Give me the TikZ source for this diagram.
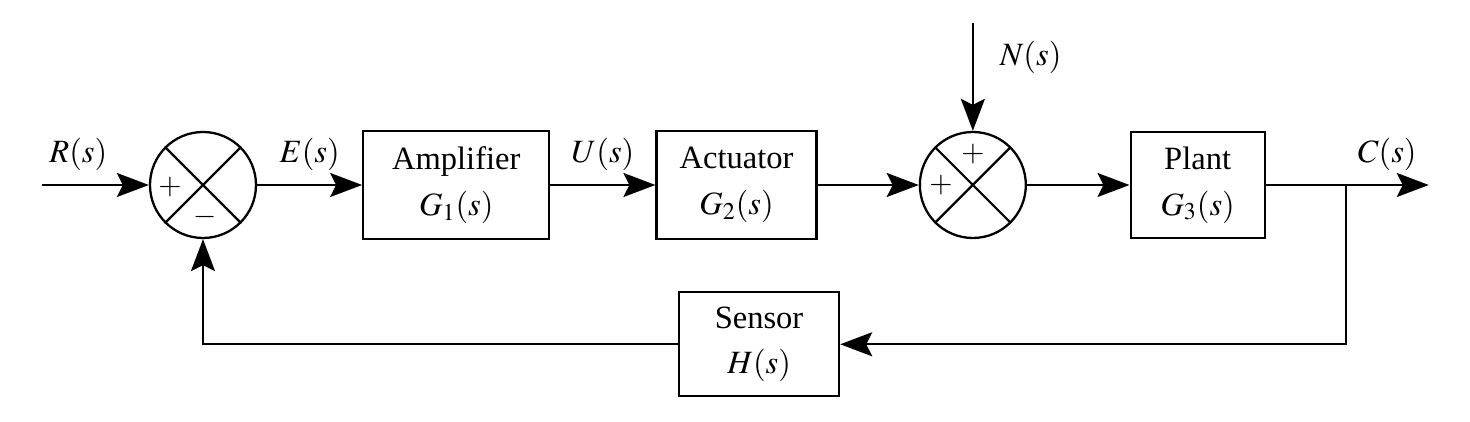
\documentclass[tikz,border=0pt]{standalone}
\usepackage{mathptmx}
\usepackage{fontspec}
\setmainfont{Liberation Serif}
\usetikzlibrary{positioning,arrows.meta}

\begin{document}
\begin{tikzpicture}[node distance = 2.05cm, font=\fontsize{18.5}{26}\selectfont, line width=1.3pt,
  block/.style={draw, shape=rectangle, minimum height=2.16cm, align=center, inner sep=2pt},
  sumnode/.style={draw, shape=circle, minimum size=2.12cm, inner sep=0pt},
  sign/.style={font=\fontsize{17}{17}\selectfont, inner sep=0pt},
  signal/.style={-{Stealth[length=6.4mm, width=4.8mm, inset=1.2mm]}}]

      \useasboundingbox (-4.06,-4.74) rectangle (25.34,3.7);

      \node[sumnode] (sum1) at (0,0) {};
      \draw (sum1.north west) -- (sum1.south east) (sum1.north east) -- (sum1.south west);
      \node[sign] (sum1plus) at ([shift={(-0.66,-0.04)}]sum1.center) {$+$};
      \node[sign] (sum1minus) at ([shift={(0.04,-0.64)}]sum1.center) {$-$};

      \node[block, minimum width=3.72cm, right=2.1cm of sum1] (amp) {Amplifier\\$G_1(s)$};
      \node[block, minimum width=3.2cm, right=2.1cm of amp] (act) {Actuator\\$G_2(s)$};

      \node[sumnode, right=2.02cm of act] (sum2) {};
      \draw (sum2.north west) -- (sum2.south east) (sum2.north east) -- (sum2.south west);
      \node[sign] (sum2top) at ([shift={(0,0.62)}]sum2.center) {$+$};
      \node[sign] (sum2left) at ([shift={(-0.64,0)}]sum2.center) {$+$};

      \node[block, minimum width=2.68cm, minimum height=2.12cm, right=of sum2] (plant) {Plant\\$G_3(s)$};
      \node[block, minimum width=3.2cm, minimum height=2.08cm, below=1.02cm of act, xshift=0.45cm] (sensor) {Sensor\\$H(s)$};

      \coordinate[left=3.22cm of sum1.center] (in);
      \coordinate[above=2.16cm of sum2] (noise);
      \coordinate[right=1.6cm of plant] (branch);
      \coordinate[right=3.26cm of plant] (out);

      \draw [signal] (in) -- node[pos=0.34, above=0.15cm] {$R(s)$} (sum1);
      \draw [signal] (sum1) -- node[midway, above=0.15cm] {$E(s)$} (amp);
      \draw [signal] (amp) -- node[midway, above=0.15cm] {$U(s)$} (act);
      \draw [signal] (act) -- (sum2);
      \draw [signal] (noise) -- node[pos=0.32, right=0.4cm] {$N(s)$} (sum2);
      \draw [signal] (sum2) -- (plant);
      \draw (plant) -- (branch);
      \draw [signal] (branch) -- node[midway, above=0.15cm] {$C(s)$} (out);
      \draw [signal] (branch) |- (sensor);
      \draw [signal] (sensor) -| (sum1);
\end{tikzpicture}
\end{document}
